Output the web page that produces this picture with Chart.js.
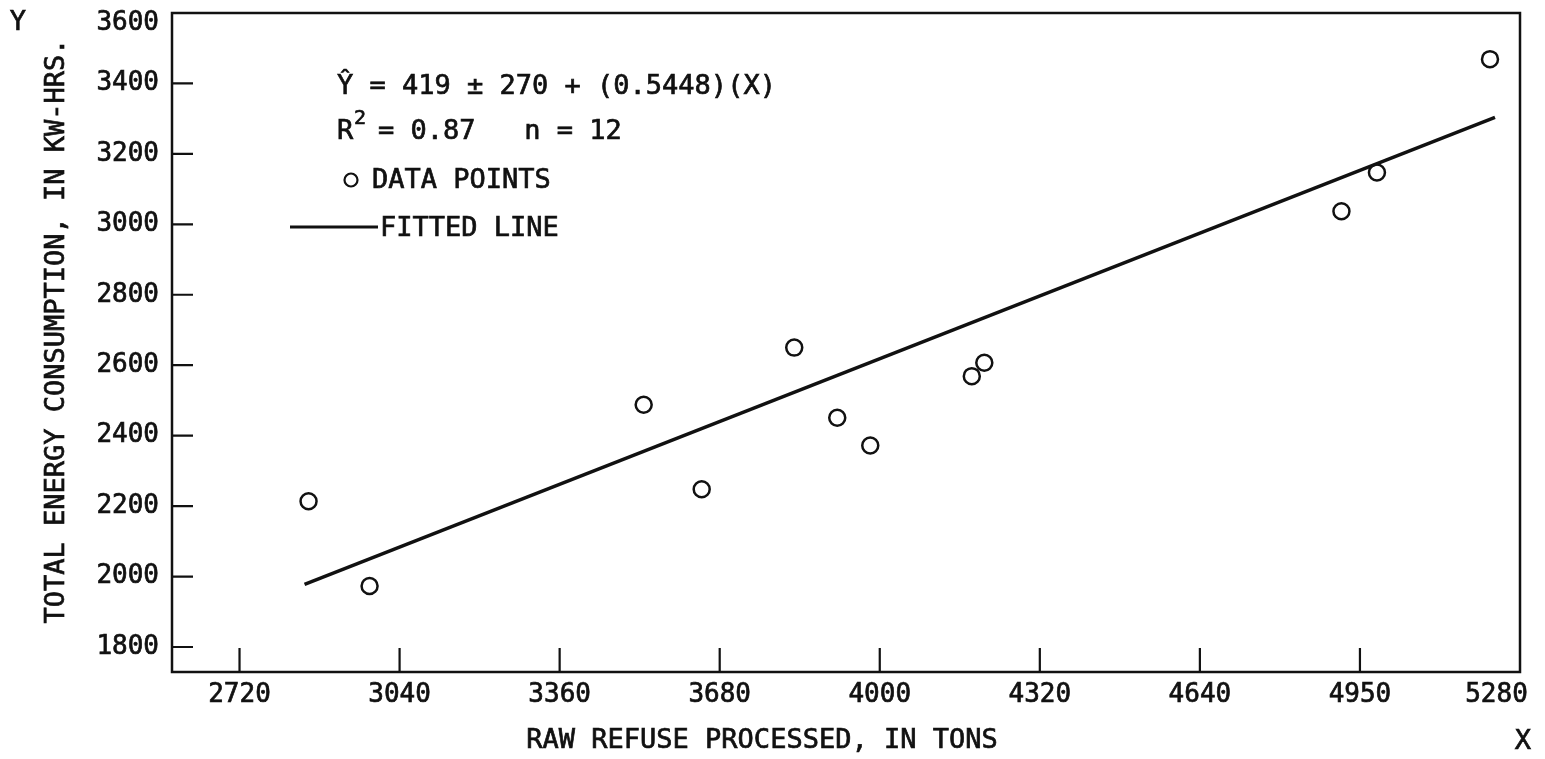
<!DOCTYPE html>
<html>
<head>
<meta charset="utf-8">
<script src="https://cdn.jsdelivr.net/npm/chart.js@4/dist/chart.umd.min.js"></script>
<style>
  html, body { margin: 0; padding: 0; background: #fff; }
  #wrap { width: 1545px; height: 759px; position: relative; }
</style>
</head>
<body>
<div id="wrap"><canvas id="c" width="1545" height="759"></canvas></div>
<script>
// Raw refuse processed (tons) vs. total energy consumption (kW-hrs)
const refuseTons = [2858, 2980, 3528, 3644, 3829, 3915, 3981, 4184, 4209, 4923, 4994, 5220];
const energyKwh  = [2214, 1973, 2488, 2248, 2650, 2451, 2372, 2569, 2607, 3037, 3147, 3469];

// Fitted regression line end points
const fitTons = [2850, 5230];
const fitKwh  = [1978, 3304];

// Axis ticks
const xTickValues = [2720, 3040, 3360, 3680, 4000, 4320, 4640, 4960, 5280];
const xTickLabels = ['2720', '3040', '3360', '3680', '4000', '4320', '4640', '4950', '5280'];
const yTickValues = [1800, 2000, 2200, 2400, 2600, 2800, 3000, 3200, 3400, 3600];
const yTickLabels = ['1800', '2000', '2200', '2400', '2600', '2800', '3000', '3200', '3400', '3600'];

const FONT = "'DejaVu Sans Mono', 'Liberation Mono', monospace";
const INK = '#111';
const TEXT_STROKE = 0.7;

const points = refuseTons.map((x, i) => ({ x, y: energyKwh[i] }));
const fitLine = fitTons.map((x, i) => ({ x, y: fitKwh[i] }));

// Keep the plot box fixed: no extra room for overhanging tick labels
const noOverhang = s => {
  s.paddingLeft = 0; s.paddingRight = 0; s.paddingTop = 0; s.paddingBottom = 0;
};

// Frame around the plot area and inward-pointing tick marks
const framePlugin = {
  id: 'frame',
  afterDraw(chart) {
    const { ctx, chartArea: a, scales } = chart;
    ctx.save();
    ctx.strokeStyle = INK;
    ctx.lineWidth = 2.5;
    ctx.strokeRect(a.left, a.top, a.right - a.left, a.bottom - a.top);
    ctx.lineWidth = 2.2;
    ctx.beginPath();
    scales.y.ticks.forEach(t => {
      if (t.value >= scales.y.max) return;
      const py = scales.y.getPixelForValue(t.value);
      ctx.moveTo(a.left, py);
      ctx.lineTo(a.left + 21, py);
    });
    scales.x.ticks.forEach(t => {
      if (t.value >= scales.x.max) return;
      const px = scales.x.getPixelForValue(t.value);
      ctx.moveTo(px, a.bottom);
      ctx.lineTo(px, a.bottom - 24);
    });
    ctx.stroke();
    ctx.restore();
  }
};

// Axis titles, axis letters and the regression key
const textPlugin = {
  id: 'texts',
  afterDraw(chart) {
    const { ctx } = chart;
    const big = `27px ${FONT}`;
    const put = (s, x, y) => { ctx.fillText(s, x, y); ctx.strokeText(s, x, y); };
    ctx.save();
    ctx.fillStyle = INK;
    ctx.strokeStyle = INK;
    ctx.lineWidth = TEXT_STROKE;
    ctx.font = big;
    ctx.textBaseline = 'middle';

    // axis letters
    ctx.textAlign = 'center';
    put('Y', 18, 23);
    put('X', 1523, 742);

    // x-axis title
    put('RAW REFUSE PROCESSED, IN TONS', 762, 741);

    // y-axis title
    ctx.save();
    ctx.translate(57, 331);
    ctx.rotate(-Math.PI / 2);
    put('TOTAL ENERGY CONSUMPTION, IN KW-HRS.', 0, 0);
    ctx.restore();

    // regression key
    ctx.textAlign = 'left';
    put('Ŷ = 419 ± 270 + (0.5448)(X)', 337, 87);
    put('R', 337, 132);
    ctx.font = `20px ${FONT}`;
    put('2', 354, 119);
    ctx.font = big;
    put('= 0.87   n = 12', 378, 132);
    put('DATA POINTS', 372, 181);
    put('FITTED LINE', 380, 229);

    ctx.lineWidth = 2.2;
    ctx.beginPath();
    ctx.arc(351, 180, 6.5, 0, Math.PI * 2);
    ctx.stroke();

    ctx.lineWidth = 3;
    ctx.beginPath();
    ctx.moveTo(290, 227);
    ctx.lineTo(378, 227);
    ctx.stroke();
    ctx.restore();
  }
};

new Chart(document.getElementById('c'), {
  type: 'scatter',
  data: {
    datasets: [
      {
        label: 'FITTED LINE',
        data: fitLine,
        showLine: true,
        borderColor: INK,
        borderWidth: 3.5,
        pointRadius: 0,
        fill: false,
        order: 2
      },
      {
        label: 'DATA POINTS',
        data: points,
        pointStyle: 'circle',
        pointRadius: 8,
        pointBorderWidth: 2.5,
        pointBorderColor: INK,
        pointBackgroundColor: 'rgba(255,255,255,0)',
        order: 1
      }
    ]
  },
  options: {
    responsive: false,
    animation: false,
    devicePixelRatio: 1,
    layout: { padding: { top: 13, right: 25, left: 0, bottom: 0 } },
    plugins: {
      legend: { display: false },
      tooltip: { enabled: false }
    },
    scales: {
      x: {
        type: 'linear',
        min: 2585,
        max: 5280,
        grid: { display: false, drawTicks: false },
        border: { display: false },
        afterBuildTicks: s => { s.ticks = xTickValues.map(v => ({ value: v })); },
        afterFit: s => { s.height = 87; noOverhang(s); },
        ticks: {
          autoSkip: false,
          maxRotation: 0,
          padding: 8,
          color: INK,
          textStrokeColor: INK,
          textStrokeWidth: TEXT_STROKE,
          font: { family: FONT, size: 26 },
          // the last label is nudged inside the frame's right edge
          callback: (v, i) => i === xTickLabels.length - 1 ? xTickLabels[i] + '   ' : xTickLabels[i]
        }
      },
      y: {
        type: 'linear',
        min: 1729,
        max: 3600,
        grid: { display: false, drawTicks: false },
        border: { display: false },
        afterBuildTicks: s => { s.ticks = yTickValues.map(v => ({ value: v })); },
        afterFit: s => { s.width = 172; noOverhang(s); },
        ticks: {
          autoSkip: false,
          padding: 13,
          color: INK,
          textStrokeColor: INK,
          textStrokeWidth: TEXT_STROKE,
          font: ctx => ({ family: FONT, size: 26, lineHeight: ctx.index === yTickValues.length - 1 ? 0.8 : 1.2 }),
          // the top label sits just below the frame's top edge
          callback: (v, i) => i === yTickValues.length - 1 ? ['', yTickLabels[i]] : yTickLabels[i]
        }
      }
    }
  },
  plugins: [framePlugin, textPlugin]
});
</script>
</body>
</html>
